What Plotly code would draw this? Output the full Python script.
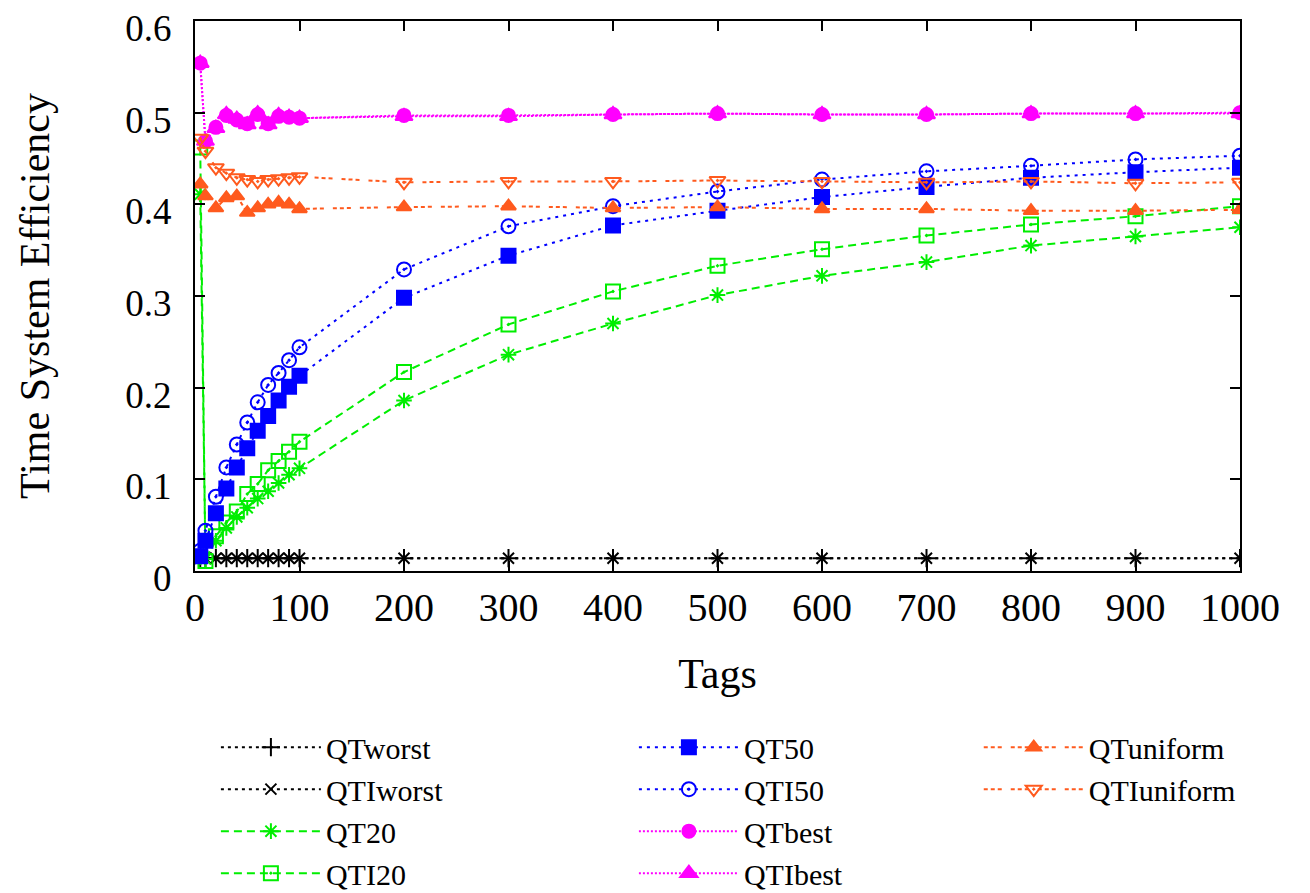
import plotly.graph_objects as go

tags = [5, 10, 20, 30, 40, 50, 60, 70, 80, 90, 100, 200, 300, 400, 500, 600, 700, 800, 900, 1000]

qt_worst = [0.014, 0.014, 0.014, 0.014, 0.014, 0.014, 0.014, 0.014, 0.014, 0.014, 0.014,
            0.014, 0.014, 0.014, 0.014, 0.014, 0.014, 0.014, 0.014, 0.014]
qti_worst = [0.014, 0.014, 0.014, 0.014, 0.014, 0.014, 0.014, 0.014, 0.014, 0.014, 0.014,
             0.014, 0.014, 0.014, 0.014, 0.014, 0.014, 0.014, 0.014, 0.014]
qt20 = [0.411, 0.013, 0.033, 0.047, 0.059, 0.069, 0.079, 0.087, 0.096, 0.105, 0.112,
        0.186, 0.236, 0.270, 0.301, 0.322, 0.337, 0.355, 0.365, 0.375]
qti20 = [0.462, 0.011, 0.038, 0.053, 0.065, 0.084, 0.095, 0.110, 0.120, 0.130, 0.141,
         0.217, 0.269, 0.305, 0.333, 0.351, 0.366, 0.378, 0.387, 0.398]
qt50 = [0.016, 0.033, 0.063, 0.090, 0.113, 0.134, 0.153, 0.169, 0.186, 0.201, 0.213,
        0.298, 0.344, 0.377, 0.393, 0.408, 0.419, 0.429, 0.435, 0.440]
qti50 = [0.022, 0.044, 0.081, 0.113, 0.138, 0.162, 0.184, 0.203, 0.216, 0.230, 0.244,
         0.329, 0.376, 0.398, 0.414, 0.427, 0.436, 0.442, 0.449, 0.453]
qt_best = [0.554, 0.469, 0.484, 0.497, 0.492, 0.488, 0.498, 0.488, 0.496, 0.495, 0.494,
           0.497, 0.497, 0.498, 0.499, 0.498, 0.498, 0.499, 0.499, 0.500]
qti_best = [0.554, 0.469, 0.483, 0.498, 0.493, 0.487, 0.499, 0.487, 0.497, 0.495, 0.494,
            0.496, 0.496, 0.498, 0.499, 0.498, 0.498, 0.499, 0.499, 0.499]
qt_uniform = [0.422, 0.409, 0.396, 0.407, 0.409, 0.391, 0.396, 0.400, 0.402, 0.400, 0.395,
              0.397, 0.398, 0.396, 0.397, 0.395, 0.395, 0.393, 0.393, 0.394]
qti_uniform = [0.472, 0.458, 0.440, 0.434, 0.429, 0.427, 0.425, 0.427, 0.428, 0.429, 0.430,
               0.424, 0.425, 0.425, 0.426, 0.425, 0.424, 0.425, 0.423, 0.424]

y_ticks = [0, 0.1, 0.2, 0.3, 0.4, 0.5, 0.6]
y_tick_labels = ["0", "0.1", "0.2", "0.3", "0.4", "0.5", "0.6"]
x_ticks = [0, 100, 200, 300, 400, 500, 600, 700, 800, 900, 1000]

FONT = "Liberation Serif, Times New Roman, serif"
BLACK = "#000000"
GREEN = "#00ee00"
BLUE = "#0000ff"
MAGENTA = "#ff00ff"
ORANGE = "#ff5a1e"

series = [
    ("QTworst", qt_worst, BLACK, "3px,4px", 2, "cross-thin", 13, "legend"),
    ("QTIworst", qti_worst, BLACK, "3px,4px", 2, "x-thin", 11, "legend"),
    ("QT20", qt20, GREEN, "8px,5px", 2, "asterisk", 13, "legend"),
    ("QTI20", qti20, GREEN, "8px,5px", 2, "square-open-dot", 14, "legend"),
    ("QT50", qt50, BLUE, "3px,5px", 2, "square", 14, "legend2"),
    ("QTI50", qti50, BLUE, "3px,5px", 2, "circle-open-dot", 14, "legend2"),
    ("QTbest", qt_best, MAGENTA, "2px,2px", 2, "circle", 13, "legend2"),
    ("QTIbest", qti_best, MAGENTA, "2px,2px", 2, "triangle-up", 15, "legend2"),
    ("QTuniform", qt_uniform, ORANGE, "4px,3px,4px,3px,4px,9px", 2, "triangle-up", 13, "legend3"),
    ("QTIuniform", qti_uniform, ORANGE, "4px,3px,4px,3px,4px,9px", 2, "triangle-down-open-dot", 14, "legend3"),
]

fig = go.Figure()
for name, ys, color, dash, lw, sym, size, leg in series:
    fig.add_trace(go.Scatter(
        x=tags, y=ys, name=name, mode="lines+markers",
        line=dict(color=color, width=lw, dash=dash),
        marker=dict(symbol=sym, size=size, color=color,
                    line=dict(color=color, width=2)),
        legend=leg,
    ))

legend_common = dict(
    font=dict(family=FONT, size=30, color="black"),
    bgcolor="rgba(0,0,0,0)", borderwidth=0,
    itemwidth=100, yanchor="top", xanchor="left",
    orientation="v", tracegroupgap=0, itemclick=False,
)
LEG_Y = -0.273

fig.update_layout(
    width=1302, height=885,
    margin=dict(l=187, r=70, t=13, b=322, autoexpand=False),
    paper_bgcolor="white", plot_bgcolor="white",
    font=dict(family=FONT, color="black"),
    showlegend=True,
    legend=dict(x=0.02, y=LEG_Y, **legend_common),
    legend2=dict(x=0.42, y=LEG_Y, **legend_common),
    legend3=dict(x=0.75, y=LEG_Y, **legend_common),
)

fig.update_xaxes(
    range=[0, 1000], tickvals=x_ticks, automargin=False,
    showline=True, linecolor="black", linewidth=2, mirror="allticks",
    ticks="inside", ticklen=10, tickwidth=1.5, tickcolor="black",
    showgrid=False, zeroline=False,
    tickfont=dict(family=FONT, size=40, color="black"),
    ticklabelstandoff=0, ticklabeloverflow="allow",
    title=dict(text="Tags", font=dict(family=FONT, size=42, color="black"), standoff=30),
)
fig.update_yaxes(
    range=[0, 0.6], tickvals=y_ticks, ticktext=y_tick_labels, automargin=False,
    showline=True, linecolor="black", linewidth=2, mirror="allticks",
    ticks="inside", ticklen=10, tickwidth=1.5, tickcolor="black",
    showgrid=False, zeroline=False,
    tickfont=dict(family=FONT, size=37, color="black"),
    ticklabelstandoff=14, ticklabeloverflow="allow", ticklabelshift=7,
    title=dict(text="Time System Efficiency", font=dict(family=FONT, size=42, color="black"), standoff=63),
)

fig.write_html("out.html")
